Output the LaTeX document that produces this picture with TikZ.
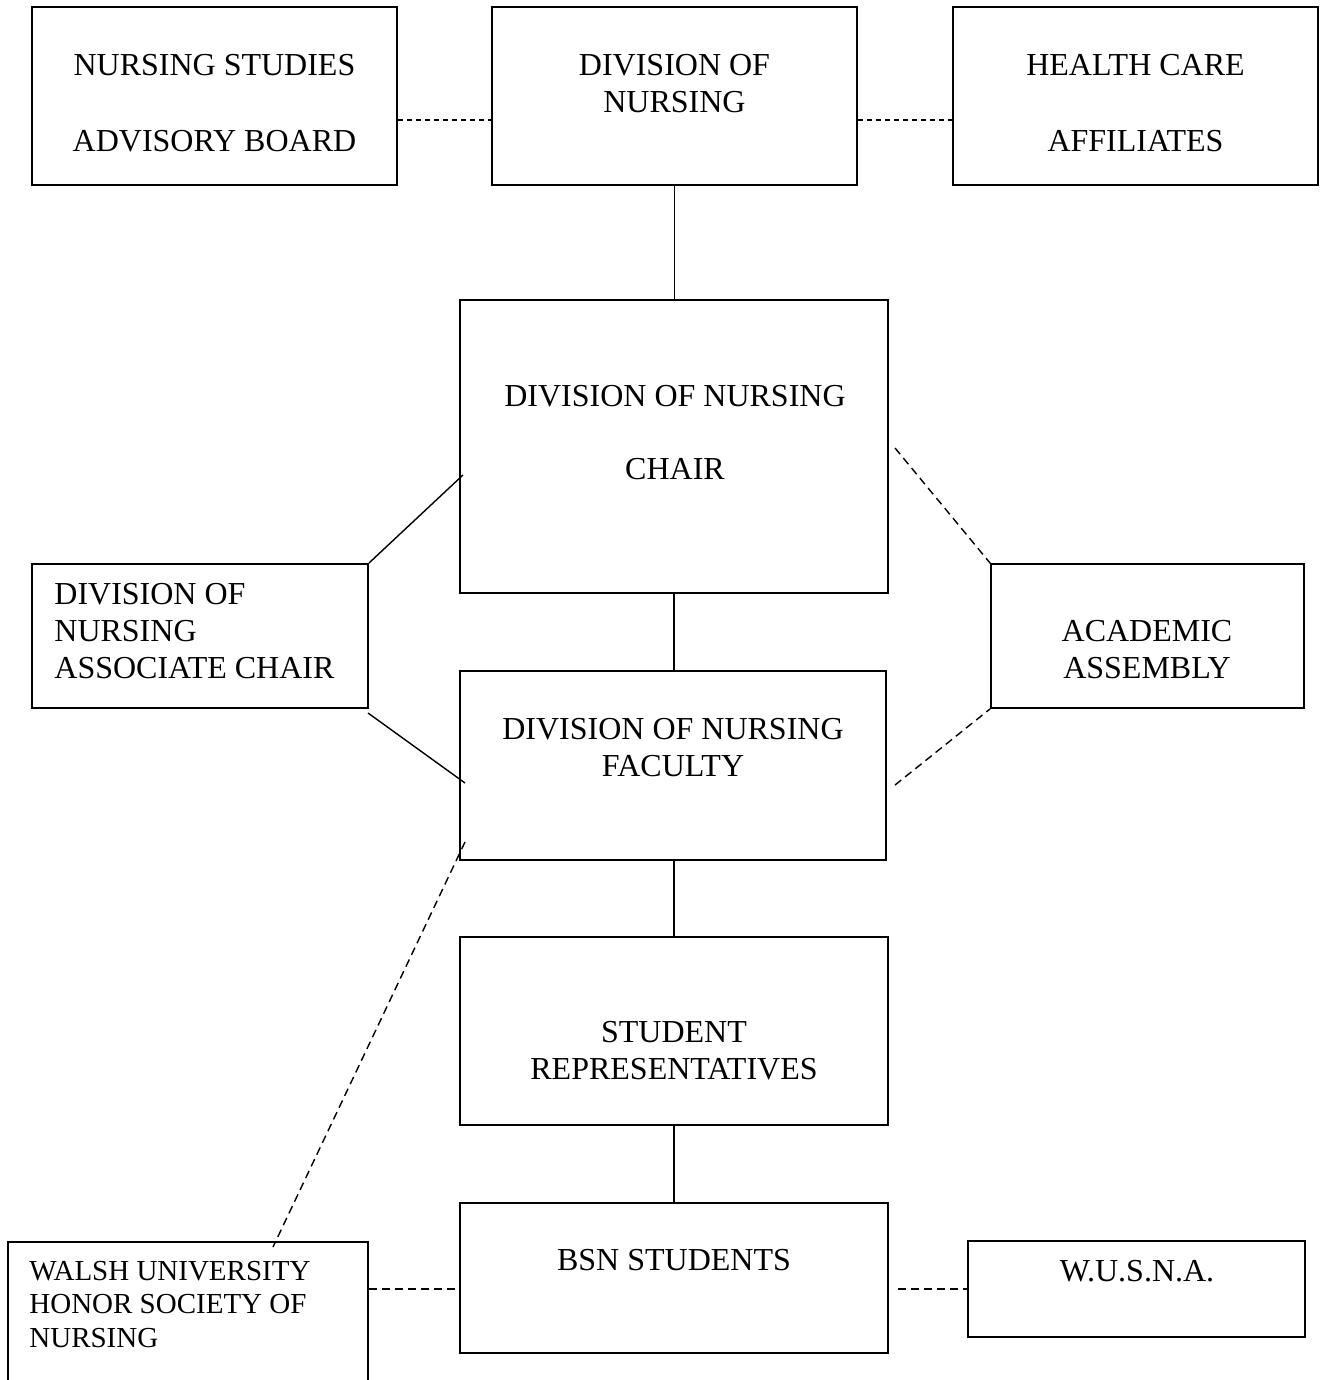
\documentclass[tikz,border=0pt]{standalone}
\usepackage{fontspec}
\setmainfont{Liberation Serif}
\usepackage{tikz}
\usetikzlibrary{calc}
\tikzstyle{unit}=[
        draw,
        line width=1pt,
        inner sep=0pt
]
\tikzstyle{boxtext}=[
        font=\fontsize{16pt}{18.5pt}\selectfont,
        align=center,
        inner sep=0pt
]
\tikzstyle{link}=[
        line width=0.7pt
]
\tikzstyle{dotlink}=[
        line width=0.7pt,
        dash pattern=on 2.5pt off 2pt
]
\tikzstyle{dashlink}=[
        line width=0.7pt,
        dash pattern=on 4pt off 2.5pt
]

\begin{document}
\begin{tikzpicture}[x=0.5pt,y=-0.5pt]
                        \useasboundingbox (0,0) rectangle (1321,1380);

                        \node[unit, minimum width=182.5pt, minimum height=89pt] (nsab) at (214.5,96) {};
                        \node[unit, minimum width=182.5pt, minimum height=89pt] (don) at (674.5,96) {};
                        \node[unit, minimum width=182.5pt, minimum height=89pt] (hca) at (1135.5,96) {};
                        \node[unit, minimum width=214pt, minimum height=146.5pt] (chair) at (674,446.5) {};
                        \node[unit, minimum width=168pt, minimum height=72pt] (assoc) at (200,636) {};
                        \node[unit, minimum width=213pt, minimum height=94.5pt] (faculty) at (673,765.5) {};
                        \node[unit, line width=0.8pt, minimum width=156.5pt, minimum height=72pt] (acad) at (1147.5,636) {};
                        \node[unit, minimum width=214pt, minimum height=94pt] (reps) at (674,1031) {};
                        \node[unit, minimum width=214pt, minimum height=75pt] (bsn) at (674,1278) {};
                        \node[unit, minimum width=180pt, minimum height=89pt] (walsh) at (188,1331) {};
                        \node[unit, line width=0.8pt, minimum width=168.5pt, minimum height=48pt] (wusna) at (1136.5,1289) {};

                        \node[boxtext] (nsab-t) at (214.5,103.5) {NURSING STUDIES\\[19.5pt]ADVISORY BOARD};
                        \node[boxtext] (don-t) at (674.5,83.5) {DIVISION OF\\NURSING};
                        \node[boxtext] (hca-t) at (1135.5,103.5) {HEALTH CARE\\[19.5pt]AFFILIATES};
                        \node[boxtext] (chair-t) at (675,432.5) {DIVISION OF NURSING\\[18pt]CHAIR};
                        \node[boxtext, align=left, anchor=west] (assoc-t) at (54,631.5) {DIVISION OF\\NURSING\\ASSOCIATE CHAIR};
                        \node[boxtext] (faculty-t) at (673,748) {DIVISION OF NURSING\\FACULTY};
                        \node[boxtext] (acad-t) at (1147,650) {ACADEMIC\\ASSEMBLY};
                        \node[boxtext] (reps-t) at (674,1050.5) {STUDENT\\REPRESENTATIVES};
                        \node[boxtext] (bsn-t) at (674,1260) {BSN STUDENTS};
                        \node[boxtext, align=left, anchor=west, font=\fontsize{14.5pt}{16.75pt}\selectfont] (walsh-t) at (29,1304.5) {WALSH UNIVERSITY\\HONOR SOCIETY OF\\NURSING};
                        \node[boxtext] (wusna-t) at (1137,1271) {W.U.S.N.A.};

                        \coordinate (chair-l) at (463,475);
                        \coordinate (assoc-r) at (368,713);
                        \coordinate (faculty-l) at (465,783);
                        \coordinate (chair-r) at (895,448);
                        \coordinate (faculty-r) at (895,785);
                        \coordinate (faculty-b) at (465,842);
                        \coordinate (walsh-n) at (273,1247);

                        \draw[dotlink] ([yshift=-12pt]nsab.east) -- ([yshift=-12pt]don.west);
                        \draw[dotlink] ([yshift=-12pt]don.east) -- ([yshift=-12pt]hca.west);

                        \draw[link] (don.south) -- (don.south |- chair.north);
                        \draw[link] (chair.south) -- (chair.south |- faculty.north);
                        \draw[link] (faculty.south -| reps.north) -- (reps.north);
                        \draw[link] (reps.south) -- (bsn.north);

                        \draw[link] (assoc.north east) -- (chair-l);
                        \draw[link] (assoc-r) -- (faculty-l);
                        \draw[dashlink] (chair-r) -- (acad.north west);
                        \draw[dashlink] (faculty-r) -- (acad.south west);
                        \draw[dashlink] (faculty-b) -- (walsh-n);

                        \draw[dashlink] (walsh.east |- wusna.west) -- (bsn.west |- wusna.west);
                        \draw[dashlink, shorten <=4.5pt] (bsn.east |- wusna.west) -- (wusna.west);
\end{tikzpicture}
\end{document}
